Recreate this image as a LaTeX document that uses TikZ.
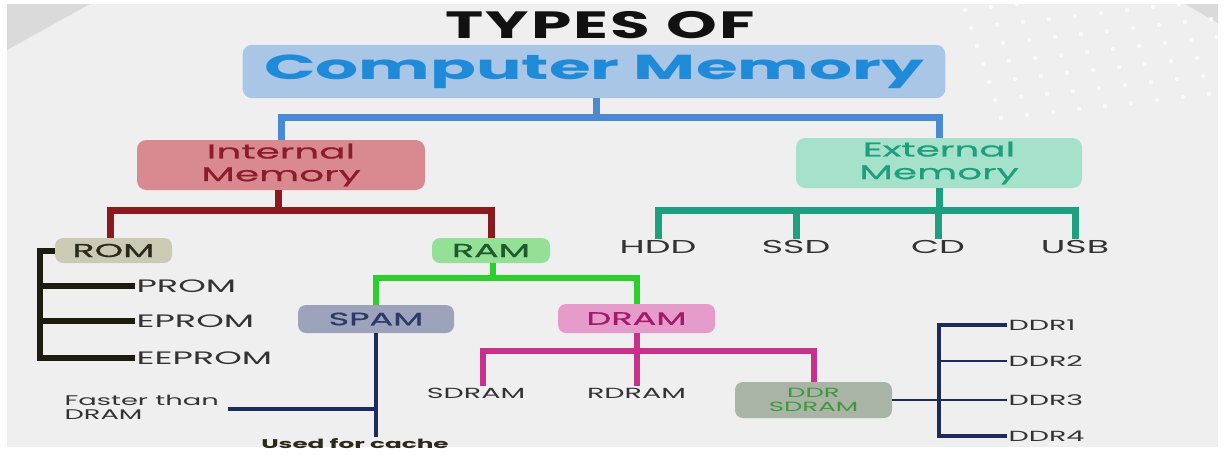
\documentclass[tikz,border=0pt]{standalone}
\usepackage{fontspec}
\setmainfont{Poppins}[FakeStretch=1.95]
\newfontfamily\medfont{Poppins}[FakeStretch=1.95,FakeBold=0.8]
\newfontfamily\titlefont{Poppins}[FakeStretch=1.7,LetterSpace=6]
\definecolor{bgc}{HTML}{EFEFEF}
\definecolor{cornerc}{HTML}{DADADA}
\definecolor{titlec}{HTML}{111111}
\definecolor{cmfill}{HTML}{A9C6E6}
\definecolor{cmtext}{HTML}{1F8BD8}
\definecolor{cmline}{HTML}{4A8AD4}
\definecolor{infill}{HTML}{D98A90}
\definecolor{intext}{HTML}{8E1B2B}
\definecolor{inline}{HTML}{8B1A1F}
\definecolor{exfill}{HTML}{A6E1CC}
\definecolor{extext}{HTML}{1E9F7B}
\definecolor{exline}{HTML}{1E9F80}
\definecolor{romfill}{HTML}{CBCBB5}
\definecolor{romtext}{HTML}{2A2A1A}
\definecolor{romline}{HTML}{1C1C0E}
\definecolor{ramfill}{HTML}{93E096}
\definecolor{ramtext}{HTML}{1E5A2C}
\definecolor{ramline}{HTML}{2BD12B}
\definecolor{spfill}{HTML}{9DA3BA}
\definecolor{sptext}{HTML}{2C3A6A}
\definecolor{navy}{HTML}{1F2A5C}
\definecolor{drfill}{HTML}{E59CCA}
\definecolor{drtext}{HTML}{A5186B}
\definecolor{drline}{HTML}{C9308C}
\definecolor{ddrfill}{HTML}{A9B3A6}
\definecolor{ddrtext}{HTML}{3C9A3C}
\definecolor{labc}{HTML}{333333}
\tikzset{
  box/.style={rounded corners=7pt, inner sep=0pt, align=center},
  lab/.style={inner sep=1pt, text=labc},
  conn/.style={line join=miter},
}
\begin{document}
\begin{tikzpicture}[x=0.75pt,y=-0.75pt]
\useasboundingbox (0,0) rectangle (1225,454);
% background
\fill[white] (0,0) rectangle (1225,454);
\fill[bgc] (7,4) rectangle (1218,447);
\fill[cornerc] (7,4) -- (90,4) -- (7,50) -- cycle;
\fill[cornerc] (1185,4) -- (1218,4) -- (1218,23) -- cycle;
\foreach \i in {0,...,9}{
  \foreach \j in {0,...,6}{
    \fill[white,opacity=0.75] (965+\i*26+\j*6, 10+\j*18-\i*3) circle (2.2);
  }
}
% title
\node[text=titlec, font=\titlefont\bfseries\fontsize{28.5}{30}\selectfont] (title) at (600,25) {TYPES OF};
% main box
\node[box, fill=cmfill, minimum width=527pt, minimum height=40pt, text=cmtext,
      font=\bfseries\fontsize{26}{28}\selectfont] (cm) at (594,71.5) {Computer Memory};
% level 1
\node[box, fill=infill, minimum width=216pt, minimum height=37.5pt, text=intext,
      font=\medfont\fontsize{15}{17}\selectfont] (int) at (281,165) {Internal\\Memory};
\node[box, fill=exfill, minimum width=214.5pt, minimum height=37.5pt, text=extext,
      font=\medfont\fontsize{15}{17}\selectfont] (ext) at (939,163) {External\\Memory};
% level 2
\node[box, rounded corners=6pt, fill=romfill, minimum width=87.75pt, minimum height=18.75pt, text=romtext,
      font=\medfont\fontsize{14}{15}\selectfont] (rom) at (113.5,250.5) {ROM};
\node[box, rounded corners=6pt, fill=ramfill, minimum width=88.5pt, minimum height=18.75pt, text=ramtext,
      font=\medfont\fontsize{14}{15}\selectfont] (ram) at (491,250.5) {RAM};
\node[box, rounded corners=6pt, fill=spfill, minimum width=117pt, minimum height=21pt, text=sptext,
      font=\medfont\fontsize{13.5}{14}\selectfont] (spam) at (376,319) {SPAM};
\node[box, rounded corners=6pt, fill=drfill, minimum width=117.75pt, minimum height=21.75pt, text=drtext,
      font=\medfont\fontsize{13.5}{14}\selectfont] (dram) at (636.5,318.5) {DRAM};
\node[box, rounded corners=6pt, fill=ddrfill, minimum width=117.75pt, minimum height=27pt, text=ddrtext,
      font=\fontsize{10}{11}\selectfont] (ddr) at (813.5,400) {DDR\\SDRAM};
% labels
\node[lab, anchor=west, font=\fontsize{13.5}{15}\selectfont] (prom) at (135,286) {PROM};
\node[lab, anchor=west, font=\fontsize{13.5}{15}\selectfont] (eprom) at (135,321) {EPROM};
\node[lab, anchor=west, font=\fontsize{13.5}{15}\selectfont] (eeprom) at (135,358) {EEPROM};
\node[lab, font=\fontsize{14}{15}\selectfont] (hdd) at (658,247) {HDD};
\node[lab, font=\fontsize{14}{15}\selectfont] (ssd) at (796,247) {SSD};
\node[lab, font=\fontsize{14}{15}\selectfont] (cd) at (938,247) {CD};
\node[lab, font=\fontsize{14}{15}\selectfont] (usb) at (1075,247) {USB};
\node[lab, font=\fontsize{11}{12}\selectfont] (sdram) at (476,393) {SDRAM};
\node[lab, font=\fontsize{11}{12}\selectfont] (rdram) at (636.5,393) {RDRAM};
\node[lab, anchor=west, font=\fontsize{11}{12}\selectfont] (ddr1) at (1007,325) {DDR1};
\node[lab, anchor=west, font=\fontsize{11}{12}\selectfont] (ddr2) at (1007,361) {DDR2};
\node[lab, anchor=west, font=\fontsize{11}{12}\selectfont] (ddr3) at (1007,400) {DDR3};
\node[lab, anchor=west, font=\fontsize{11}{12}\selectfont] (ddr4) at (1007,436) {DDR4};
\node[lab, anchor=west, align=left, font=\fontsize{10.5}{10.5}\selectfont] (faster) at (63,407) {Faster than\\DRAM};
\node[lab, text=romtext, font=\bfseries\fontsize{9.5}{10}\selectfont] (cache) at (355,444) {Used for cache};
% junction coordinates
\coordinate (b1) at (596,117);
\coordinate (b2) at (278,210);
\coordinate (b3) at (493,278);
\coordinate (b4) at (637,351);
\coordinate (b5) at (939,210);
\coordinate (rb) at (40,358);
\coordinate (fl) at (228,409);
\coordinate (dv) at (939,325);
% blue
\draw[conn, cmline, line width=5.25pt] (cm.south -| b1) -- (b1);
\draw[conn, cmline, line width=5.25pt] (int.north) |- (b1) -| (ext.north);
% dark red
\draw[conn, inline, line width=5.25pt] (int.south -| b2) -- (b2);
\draw[conn, inline, line width=5.25pt] ([xshift=-2.5pt]rom.north) |- (b2) -| (ram.north);
% black bracket
\draw[conn, romline, line width=4.5pt] (rom.west) -| (rb) -- (eeprom.west);
\draw[conn, romline, line width=4.5pt] (prom.west) -- (prom.west -| rb);
\draw[conn, romline, line width=4.5pt] (eprom.west) -- (eprom.west -| rb);
% green
\draw[conn, ramline, line width=4.5pt] (ram.south -| b3) -- (b3);
\draw[conn, ramline, line width=4.5pt] (spam.north) |- (b3) -| (dram.north);
% navy SPAM
\draw[conn, navy, line width=3.5pt] (spam.south) -- (spam.south |- cache.north);
\draw[conn, navy, line width=3pt] (fl) -- (fl -| spam.south);
% magenta
\draw[conn, drline, line width=4.5pt] (dram.south) -- (rdram.north);
\draw[conn, drline, line width=4.5pt] ([xshift=5pt]sdram.north) |- (b4) -| (ddr.north);
% navy DDR
\draw[conn, navy, line width=2pt] (ddr.east) -- (ddr.east -| dv);
\draw[conn, navy, line width=3pt] (ddr1.west) -| (dv |- ddr4.west) -- (ddr4.west);
\draw[conn, navy, line width=2pt] (ddr2.west) -- (ddr2.west -| dv);
\draw[conn, navy, line width=2pt] (ddr3.west) -- (ddr3.west -| dv);
% teal
\draw[conn, exline, line width=5.25pt] (ext.south -| b5) -- (b5);
\draw[conn, exline, line width=5.25pt] (hdd.north) |- (b5) -| (usb.north);
\draw[conn, exline, line width=5.25pt] (ssd.north) -- (ssd.north |- b5);
\draw[conn, exline, line width=5.25pt] (cd.north) -- (cd.north |- b5);
\end{tikzpicture}
\end{document}
